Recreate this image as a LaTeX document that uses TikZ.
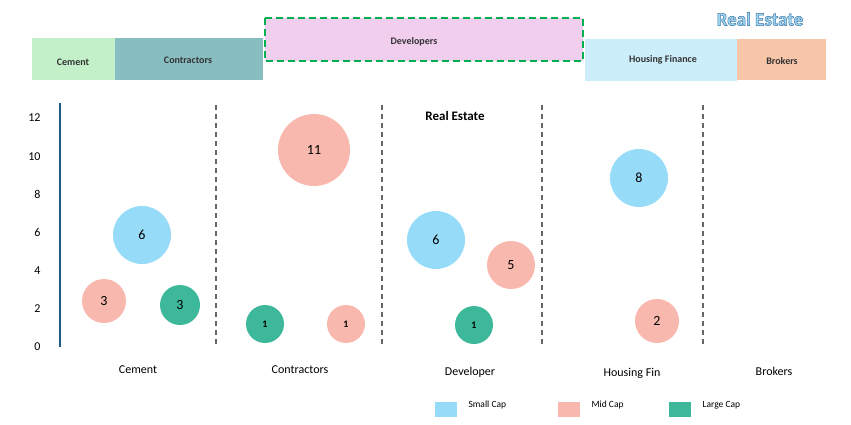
\documentclass[tikz,border=0pt]{standalone}
\usepackage{fontspec}
\setmainfont{Carlito}
\begin{document}
\begin{tikzpicture}[x=1pt,y=-1pt,
  bar/.style={inner sep=0pt,font=\fontsize{10}{12}\selectfont\bfseries,text=black!80},
  sep/.style={gray!80!black,line width=1.4pt,dash pattern=on 5pt off 4pt},
  bub/.style={circle,inner sep=0pt,font=\fontsize{14}{16}\selectfont},
  small/.style={bub,fill=sc},mid/.style={bub,fill=mc},large/.style={bub,fill=lc},
  cat/.style={font=\fontsize{12}{14}\selectfont},
  tick/.style={font=\fontsize{12}{14}\selectfont,anchor=east}]
\definecolor{sc}{HTML}{96DCF8}\definecolor{mc}{HTML}{F9B8AE}\definecolor{lc}{HTML}{3DB89A}
\definecolor{axc}{HTML}{1E5A82}
\useasboundingbox (0,0) rectangle (851,425);
% top bar
\fill[fill={rgb,255:red,195;green,240;blue,200}] (32,38) rectangle (115,80);
\node[bar] (bcem) at (73,62) {Cement};
\fill[fill={rgb,255:red,136;green,189;blue,194}] (115,38) rectangle (263,80);
\node[bar] (bcon) at (188,60) {Contractors};
\draw[fill={rgb,255:red,242;green,206;blue,238},draw={rgb,255:red,0;green,176;blue,80},line width=2.2pt,dash pattern=on 7pt off 4pt] (265,18) rectangle (583,61);
\node[bar] (bdev) at (414,42) {Developers};
\fill[fill={rgb,255:red,204;green,238;blue,250}] (585,39) rectangle (737,81);
\node[bar] (bhf) at (663,60) {Housing Finance};
\fill[fill={rgb,255:red,247;green,198;blue,169}] (737,39) rectangle (826,80);
\node[bar] (bbr) at (782,61) {Brokers};
\node[font=\fontsize{19}{22}\selectfont\bfseries,text={rgb,255:red,160;green,215;blue,240}] (title) at (760,19) {\special{pdf:code 2 Tr 0.5 w 0.24 0.47 0.67 RG}Real Estate\special{pdf:code 0 Tr}};
% axis
\draw[line width=1.8pt,axc] (60,103) -- (60,347);
\foreach \v in {0,2,...,12}{\node[tick] (t\v) at (44,347-\v*19.08) {\v};}
\foreach \x in {216,382,542,703}{\draw[sep] (\x,105) -- (\x,347);}
\node[font=\fontsize{13}{15}\selectfont\bfseries] (ttl) at (455,116) {Real Estate};
% bubbles
\node[small,minimum size=58pt] (c6) at (142,235) {6};
\node[mid,minimum size=44pt] (c3) at (104,301) {3};
\node[large,minimum size=40pt] (c3l) at (180,305) {3};
\node[mid,minimum size=72pt] (k11) at (314,150) {11};
\node[large,minimum size=38pt,font=\fontsize{10}{12}\selectfont\bfseries] (k1l) at (265,324) {1};
\node[mid,minimum size=38pt,font=\fontsize{10}{12}\selectfont\bfseries] (k1m) at (346,324) {1};
\node[small,minimum size=58pt] (d6) at (436,240) {6};
\node[mid,minimum size=48pt] (d5) at (511,265) {5};
\node[large,minimum size=38pt,font=\fontsize{10}{12}\selectfont\bfseries] (d1) at (474,325) {1};
\node[small,minimum size=58pt] (h8) at (639,178) {8};
\node[mid,minimum size=44pt] (h2) at (657,321) {2};
% categories
\node[cat] (x1) at (138,370) {Cement};
\node[cat] (x2) at (300,370) {Contractors};
\node[cat] (x3) at (470,372) {Developer};
\node[cat] (x4) at (632,373) {Housing Fin};
\node[cat] (x5) at (774,371) {Brokers};
% legend
\fill[sc] (435,402) rectangle (457,417); \node[anchor=west,font=\fontsize{9.5}{11}\selectfont] (l1) at (465,405) {Small Cap};
\fill[mc] (558,402) rectangle (580,417); \node[anchor=west,font=\fontsize{9.5}{11}\selectfont] (l2) at (588,405) {Mid Cap};
\fill[lc] (669,402) rectangle (691,417); \node[anchor=west,font=\fontsize{9.5}{11}\selectfont] (l3) at (699,405) {Large Cap};
\end{tikzpicture}
\end{document}
